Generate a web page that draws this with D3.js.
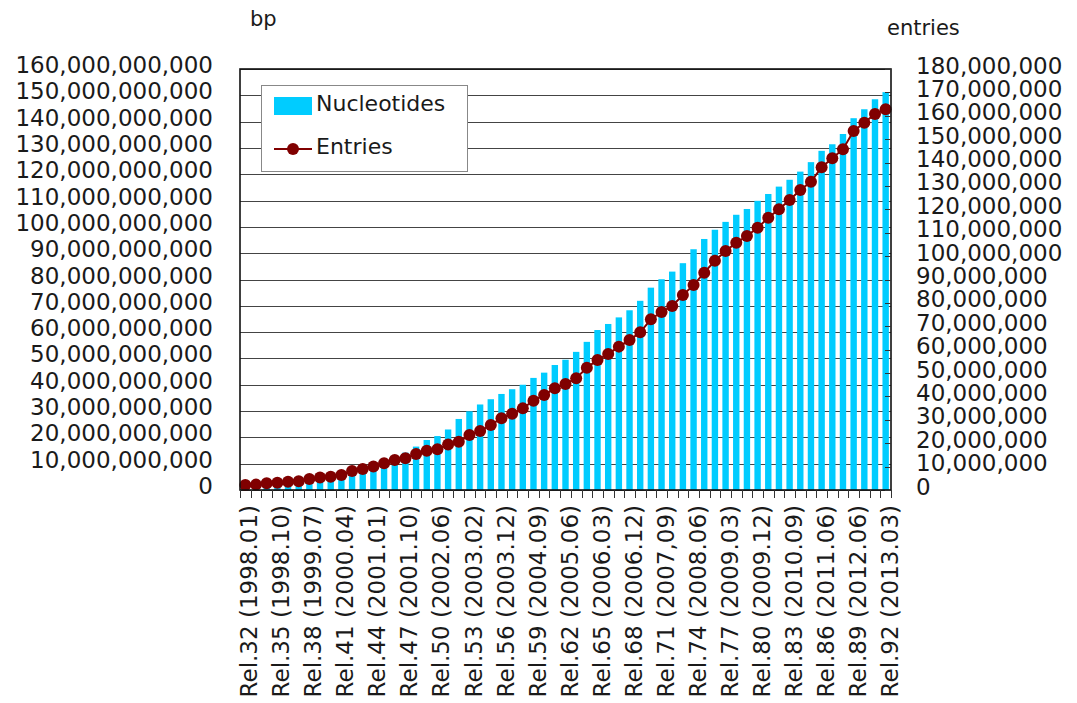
<!DOCTYPE html>
<html>
<head>
<meta charset="utf-8">
<script src="https://cdn.jsdelivr.net/npm/d3@7"></script>
<style>
  body { margin: 0; background: #fff; }
  text { font-family: "DejaVu Sans", Verdana, sans-serif; fill: #1a1a1a; }
</style>
</head>
<body>
<script>
// Width and height
var w = 1077;
var h = 703;

// releases Rel.32 .. Rel.92
var releases = ["Rel.32","Rel.33","Rel.34","Rel.35","Rel.36","Rel.37","Rel.38","Rel.39","Rel.40","Rel.41",
  "Rel.42","Rel.43","Rel.44","Rel.45","Rel.46","Rel.47","Rel.48","Rel.49","Rel.50","Rel.51",
  "Rel.52","Rel.53","Rel.54","Rel.55","Rel.56","Rel.57","Rel.58","Rel.59","Rel.60","Rel.61",
  "Rel.62","Rel.63","Rel.64","Rel.65","Rel.66","Rel.67","Rel.68","Rel.69","Rel.70","Rel.71",
  "Rel.72","Rel.73","Rel.74","Rel.75","Rel.76","Rel.77","Rel.78","Rel.79","Rel.80","Rel.81",
  "Rel.82","Rel.83","Rel.84","Rel.85","Rel.86","Rel.87","Rel.88","Rel.89","Rel.90","Rel.91","Rel.92"];

// only every third label is shown
var tickLabels = ["Rel.32 (1998.01)","Rel.35 (1998.10)","Rel.38 (1999.07)","Rel.41 (2000.04)",
  "Rel.44 (2001.01)","Rel.47 (2001.10)","Rel.50 (2002.06)","Rel.53 (2003.02)","Rel.56 (2003.12)",
  "Rel.59 (2004.09)","Rel.62 (2005.06)","Rel.65 (2006.03)","Rel.68 (2006.12)","Rel.71 (2007,09)",
  "Rel.74 (2008.06)","Rel.77 (2009.03)","Rel.80 (2009.12)","Rel.83 (2010.09)","Rel.86 (2011.06)",
  "Rel.89 (2012.06)","Rel.92 (2013.03)"];

// nucleotides (bp)
var nucleotides = [1.3e9,1.5e9,1.7e9,2.0e9,2.2e9,2.5e9,2.9e9,3.4e9,4.0e9,5.5e9,
  7.0e9,9.0e9,10.5e9,11.5e9,12.8e9,14.2e9,16.5e9,19.0e9,20.5e9,23.0e9,
  27.0e9,29.9e9,32.5e9,34.5e9,36.5e9,38.3e9,40.0e9,42.6e9,44.6e9,47.5e9,
  49.5e9,52.5e9,56.3e9,60.8e9,63.1e9,65.6e9,68.3e9,71.9e9,76.9e9,80.1e9,
  83.0e9,86.2e9,91.5e9,95.4e9,98.9e9,101.9e9,104.6e9,106.8e9,109.9e9,112.5e9,
  115.3e9,117.9e9,121.0e9,124.6e9,128.9e9,131.4e9,135.3e9,141.3e9,144.7e9,148.5e9,151.2e9];

// entries
var entries = [2.1e6,2.3e6,2.9e6,3.1e6,3.5e6,3.7e6,4.7e6,5.3e6,5.7e6,6.4e6,
  8.1e6,9.0e6,10.0e6,11.4e6,12.8e6,13.6e6,15.4e6,16.8e6,17.4e6,19.5e6,
  20.6e6,23.5e6,25.2e6,27.8e6,30.7e6,32.6e6,34.9e6,38.2e6,40.6e6,43.5e6,
  45.3e6,47.8e6,52.3e6,55.6e6,58.1e6,61.3e6,64.1e6,67.4e6,73.0e6,76.1e6,
  78.7e6,83.4e6,87.6e6,92.9e6,98.0e6,102.2e6,105.7e6,108.6e6,112.1e6,116.4e6,
  120.0e6,124.0e6,128.3e6,131.8e6,138.0e6,141.8e6,145.7e6,153.5e6,157.0e6,160.8e6,162.8e6];

var plotL = 240, plotR = 891, plotT = 69, plotB = 490;

var x = d3.scaleBand().domain(releases).range([plotL, plotR]);
var yL = d3.scaleLinear().domain([0, 160e9]).range([plotB, plotT]);
var yR = d3.scaleLinear().domain([0, 180e6]).range([plotB, plotT]);
var fmt = d3.format(",");

var svg = d3.select("body")
    .append("svg")
    .attr("width", w)
    .attr("height", h);

// gridlines
svg.selectAll(".grid")
    .data(yL.ticks(16))
    .enter()
    .append("line")
    .attr("class", "grid")
    .attr("x1", plotL).attr("x2", plotR)
    .attr("y1", function(d){ return Math.round(yL(d)) + 0.5; })
    .attr("y2", function(d){ return Math.round(yL(d)) + 0.5; })
    .attr("stroke", "#444")
    .attr("stroke-width", 1);

// bars
var bw = x.bandwidth();
svg.selectAll(".bar")
    .data(nucleotides)
    .enter()
    .append("rect")
    .attr("class", "bar")
    .attr("x", function(d, i){ return x(releases[i]) + bw * 0.2; })
    .attr("width", bw * 0.6)
    .attr("y", function(d){ return yL(d); })
    .attr("height", function(d){ return plotB - yL(d); })
    .attr("fill", "#00ccff");

// entries line + markers
var line = d3.line()
    .x(function(d, i){ return x(releases[i]) + bw / 2; })
    .y(function(d){ return yR(d); });

svg.append("path")
    .datum(entries)
    .attr("d", line)
    .attr("fill", "none")
    .attr("stroke", "#800000")
    .attr("stroke-width", 2);

svg.selectAll(".dot")
    .data(entries)
    .enter()
    .append("circle")
    .attr("class", "dot")
    .attr("cx", function(d, i){ return x(releases[i]) + bw / 2; })
    .attr("cy", function(d){ return yR(d); })
    .attr("r", 6)
    .attr("fill", "#800000");

// frame
svg.append("rect")
    .attr("x", plotL).attr("y", plotT)
    .attr("width", plotR - plotL).attr("height", plotB - plotT)
    .attr("fill", "none")
    .attr("stroke", "#111")
    .attr("stroke-width", 1.6);

// x ticks at category boundaries
var bounds = releases.map(function(r){ return x(r); }).concat([plotR]);
svg.selectAll(".xtick")
    .data(bounds)
    .enter()
    .append("line")
    .attr("x1", function(d){ return Math.round(d) + 0.5; })
    .attr("x2", function(d){ return Math.round(d) + 0.5; })
    .attr("y1", plotB).attr("y2", plotB + 8)
    .attr("stroke", "#333");

// right axis ticks (inside)
svg.selectAll(".rtick")
    .data(yR.ticks(18))
    .enter()
    .append("line")
    .attr("x1", plotR - 6).attr("x2", plotR)
    .attr("y1", function(d){ return Math.round(yR(d)) + 0.5; })
    .attr("y2", function(d){ return Math.round(yR(d)) + 0.5; })
    .attr("stroke", "#333");

// left tick labels
svg.selectAll(".lLabel")
    .data(yL.ticks(16))
    .enter()
    .append("text")
    .attr("x", 213)
    .attr("y", function(d){ return yL(d) - 4; })
    .attr("dy", "0.35em")
    .attr("text-anchor", "end")
    .style("font-size", "23px")
    .text(fmt);

// right tick labels
svg.selectAll(".rLabel")
    .data(yR.ticks(18))
    .enter()
    .append("text")
    .attr("x", 916)
    .attr("y", function(d){ return yR(d) - 3.5; })
    .attr("dy", "0.35em")
    .attr("text-anchor", "start")
    .style("font-size", "23px")
    .text(fmt);

// category labels, rotated
svg.selectAll(".xLabel")
    .data(tickLabels)
    .enter()
    .append("text")
    .attr("transform", function(d){
        var r = d.split(" ")[0];
        return "translate(" + (x(r) + bw / 2 + 4) + ",505) rotate(-90)";
    })
    .attr("dy", "0.35em")
    .attr("text-anchor", "end")
    .style("font-size", "23px")
    .text(function(d){ return d; });

// axis titles
svg.append("text").attr("x", 250).attr("y", 26).style("font-size", "21px").text("bp");
svg.append("text").attr("x", 887).attr("y", 35).style("font-size", "21px").text("entries");

// legend
var lg = svg.append("g");
lg.append("rect")
    .attr("x", 261.5).attr("y", 85.5)
    .attr("width", 206).attr("height", 86)
    .attr("fill", "#fff")
    .attr("stroke", "#888");
lg.append("rect")
    .attr("x", 274).attr("y", 97)
    .attr("width", 38).attr("height", 18)
    .attr("fill", "#00ccff");
lg.append("text").attr("x", 316).attr("y", 111).style("font-size", "22px").text("Nucleotides");
lg.append("line")
    .attr("x1", 274).attr("x2", 312)
    .attr("y1", 149).attr("y2", 149)
    .attr("stroke", "#800000").attr("stroke-width", 2);
lg.append("circle").attr("cx", 293).attr("cy", 149).attr("r", 6).attr("fill", "#800000");
lg.append("text").attr("x", 316).attr("y", 154).style("font-size", "22px").text("Entries");
</script>
</body>
</html>
